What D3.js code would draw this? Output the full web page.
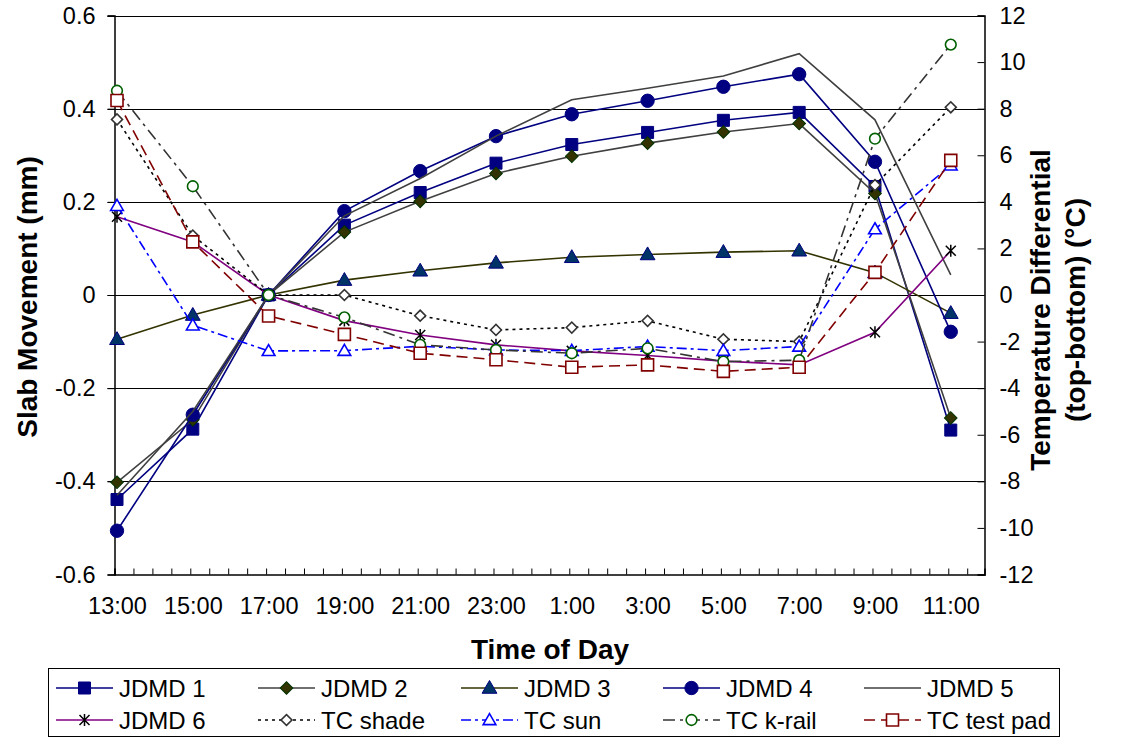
<!DOCTYPE html>
<html><head><meta charset="utf-8">
<script src="https://cdn.jsdelivr.net/npm/d3@7"></script>
<style>body{margin:0;background:#fff} text{font-family:"Liberation Sans",Arial,sans-serif;fill:#000}</style>
</head><body><svg id="c" width="1121" height="738"></svg>
<script>
// ---- data ----
const timeLabels = ["13:00","15:00","17:00","19:00","21:00","23:00","1:00","3:00","5:00","7:00","9:00","11:00"];
const hoursFromStart = [0,2,4,6,8,10,12,14,16,18,20,22];
const leftTicks = [-0.6,-0.4,-0.2,0,0.2,0.4,0.6];
const rightTicks = [-12,-10,-8,-6,-4,-2,0,2,4,6,8,10,12];
const jdmd1 = [-0.439,-0.288,0,0.150,0.220,0.283,0.323,0.349,0.375,0.392,0.233,-0.290];
const jdmd2 = [-0.402,-0.268,0,0.135,0.201,0.261,0.298,0.326,0.350,0.368,0.218,-0.264];
const jdmd3 = [-0.095,-0.043,0,0.032,0.052,0.069,0.081,0.087,0.092,0.095,0.048,-0.039];
const jdmd4 = [-0.506,-0.257,0,0.180,0.266,0.341,0.388,0.417,0.447,0.474,0.286,-0.079];
const jdmd5 = [-0.430,-0.250,0,0.170,0.250,0.341,0.419,0.444,0.470,0.518,0.376,0.043];
const jdmd6 = [0.168,0.114,0,-0.055,-0.086,-0.107,-0.120,-0.130,-0.142,-0.150,-0.080,0.095];
const tcShade = [7.54,2.55,0,0,-0.89,-1.50,-1.40,-1.11,-1.90,-2.00,4.72,8.06];
const tcSun = [3.83,-1.30,-2.40,-2.39,-2.20,-2.36,-2.39,-2.21,-2.39,-2.21,2.83,5.57];
const tcKrail = [8.77,4.67,0,-0.96,-2.14,-2.36,-2.50,-2.29,-2.86,-2.80,6.71,10.75];
const tcTestPad = [8.35,2.28,-0.90,-1.69,-2.50,-2.78,-3.10,-3.00,-3.28,-3.10,0.97,5.78];
const seriesNames = ["JDMD 1","JDMD 2","JDMD 3","JDMD 4","JDMD 5","JDMD 6","TC shade","TC sun","TC k-rail","TC test pad"];

// ---- styles ----
const styles = [
  {vals:jdmd1, axis:"L", stroke:"#000080", dash:null, marker:"square", mFill:"#000080", mStroke:"#000080"},
  {vals:jdmd2, axis:"L", stroke:"#404040", dash:null, marker:"diamond", mFill:"#333300", mStroke:"#003300"},
  {vals:jdmd3, axis:"L", stroke:"#333300", dash:null, marker:"triangle", mFill:"#003366", mStroke:"#000080"},
  {vals:jdmd4, axis:"L", stroke:"#000080", dash:null, marker:"circle", mFill:"#000080", mStroke:"#000080"},
  {vals:jdmd5, axis:"L", stroke:"#404040", dash:null, marker:null},
  {vals:jdmd6, axis:"L", stroke:"#800080", dash:null, marker:"asterisk", mFill:"none", mStroke:"#000"},
  {vals:tcShade, axis:"R", stroke:"#000", dash:"3,4", marker:"diamond", mFill:"#fff", mStroke:"#333"},
  {vals:tcSun, axis:"R", stroke:"#0000ff", dash:"10,4,3,4", marker:"triangle", mFill:"#fff", mStroke:"#0000ff"},
  {vals:tcKrail, axis:"R", stroke:"#333", dash:"12,5,3,5", marker:"circle", mFill:"#fff", mStroke:"#006000", small:true},
  {vals:tcTestPad, axis:"R", stroke:"#800000", dash:"11,6", marker:"square", mFill:"#fff", mStroke:"#800000"}
];

const svg = d3.select("#c");
const L = 114.5, R = 984.5, T = 15.5, B = 574.5;
const x = d3.scaleLinear().domain([-0.066, 22.89]).range([L, R]);
const yL = d3.scaleLinear().domain([-0.6, 0.6]).range([B, T]);
const yR = d3.scaleLinear().domain([-12, 12]).range([B, T]);
const FONT = "Liberation Sans, Arial, sans-serif";
const hy = s => s.replace("\u2212", "-");

// gridlines
svg.append("g").selectAll("line").data(leftTicks.filter(v=>v>-0.6)).join("line")
  .attr("x1", L-7).attr("x2", R).attr("y1", d=>Math.round(yL(d))+0.5).attr("y2", d=>Math.round(yL(d))+0.5)
  .attr("stroke", "#000").attr("stroke-width", 1);

// left axis
const gL = svg.append("g").attr("transform", `translate(${L},0)`)
  .call(d3.axisLeft(yL).tickValues(leftTicks).tickSize(7).tickPadding(12)
    .tickFormat(d=>d===0?"0":hy(d3.format(".1f")(d))));
gL.select(".domain").attr("stroke","#000").attr("stroke-width",1.5);
gL.selectAll("text").attr("font-size", 23.5).attr("font-family",FONT);

// right axis
const gR = svg.append("g").attr("transform", `translate(${R},0)`)
  .call(d3.axisRight(yR).tickValues(rightTicks).tickSize(-7).tickPadding(15)
    .tickFormat(d=>hy(d3.format("d")(d))));
gR.select(".domain").attr("stroke","#000").attr("stroke-width",1.5);
gR.selectAll("text").attr("font-size", 23.5).attr("font-family",FONT);

// bottom axis: minor ticks
const minorTicks = d3.range(0, 46).map(k => -0.066 + k*0.5);
const gB = svg.append("g").attr("transform", `translate(0,${B})`)
  .call(d3.axisBottom(x).tickValues(minorTicks).tickSize(-6).tickFormat(""));
gB.select(".domain").attr("stroke","#000").attr("stroke-width",1.5);
// bottom labels
const labelScale = d3.scalePoint().domain(timeLabels).range([x(hoursFromStart[0]), x(hoursFromStart[11])]);
const gB2 = svg.append("g").attr("transform", `translate(0,${B})`)
  .call(d3.axisBottom(labelScale).tickSize(0).tickPadding(23));
gB2.select(".domain").remove();
gB2.selectAll("text").attr("font-size", 23.5).attr("font-family",FONT);

// axis titles
svg.append("text").attr("transform","translate(37,297) rotate(-90)").attr("text-anchor","middle")
  .attr("font-size",28).attr("font-weight","bold").text("Slab Movement (mm)");
svg.append("text").attr("transform","translate(1050,310) rotate(-90)").attr("text-anchor","middle")
  .attr("font-size",28).attr("font-weight","bold").text("Temperature Differential");
svg.append("text").attr("transform","translate(1085,310) rotate(-90)").attr("text-anchor","middle")
  .attr("font-size",28).attr("font-weight","bold").text("(top-bottom) (°C)");
svg.append("text").attr("x",550).attr("y",659).attr("text-anchor","middle")
  .attr("font-size",28).attr("font-weight","bold").text("Time of Day");

// marker drawing
function drawMarker(g, type, cx, cy, s) {
  let el;
  if (type === "square") {
    el = g.append("path").attr("d", d3.symbol(d3.symbolSquare, 144)());
  } else if (type === "diamond") {
    el = g.append("path").attr("d", d3.symbol(d3.symbolSquare, s.mFill==="#fff"?60:80)());
  } else if (type === "triangle") {
    el = g.append("path").attr("d", d3.symbol(d3.symbolTriangle, s.mFill==="#fff"?70:95)());
  } else if (type === "circle") {
    el = g.append("path").attr("d", d3.symbol(d3.symbolCircle, s.small?90:140)());
  } else if (type === "asterisk") {
    el = g.append("path").attr("d", "M0,-6V6M-5,-5L5,5M-5,5L5,-5");
  }
  if (!el) return;
  let tr = `translate(${cx},${cy})`;
  if (type === "diamond") tr += " rotate(45)";
  if (type === "triangle") tr += " translate(0,1)";
  el.attr("transform", tr)
    .attr("fill", type==="asterisk" ? "none" : s.mFill)
    .attr("stroke", s.mStroke)
    .attr("stroke-width", type==="asterisk" ? 1.5 : (s.mFill==="#fff"?1.6:1));
}

// series
const line = (s) => d3.line()
  .x((d,i)=>x(hoursFromStart[i]))
  .y(d=> s.axis==="L" ? yL(d) : yR(d));
styles.forEach(s => {
  const g = svg.append("g");
  g.append("path").attr("d", line(s)(s.vals)).attr("fill","none")
    .attr("stroke", s.stroke).attr("stroke-width", 1.6)
    .attr("stroke-dasharray", s.dash);
  if (s.marker) {
    s.vals.forEach((v,i) => drawMarker(g, s.marker, x(hoursFromStart[i]), s.axis==="L"?yL(v):yR(v), s));
  }
});

// legend
const lg = svg.append("g");
lg.append("rect").attr("x",48.5).attr("y",668.5).attr("width",1011).attr("height",68)
  .attr("fill","#fff").attr("stroke","#000").attr("stroke-width",1);
const colX = [56, 258, 461, 663, 864];
const rowY = [688, 720];
styles.forEach((s, i) => {
  const cx0 = colX[i%5], cy = rowY[Math.floor(i/5)];
  const g = lg.append("g");
  g.append("line").attr("x1",cx0).attr("x2",cx0+57).attr("y1",cy).attr("y2",cy)
    .attr("stroke",s.stroke).attr("stroke-width",1.6).attr("stroke-dasharray",s.dash);
  if (s.marker) drawMarker(g, s.marker, cx0+28.5, cy, s);
  g.append("text").attr("x",cx0+63).attr("y",cy).attr("dy","0.36em")
    .attr("font-size",24).text(seriesNames[i]);
});
</script></body></html>
